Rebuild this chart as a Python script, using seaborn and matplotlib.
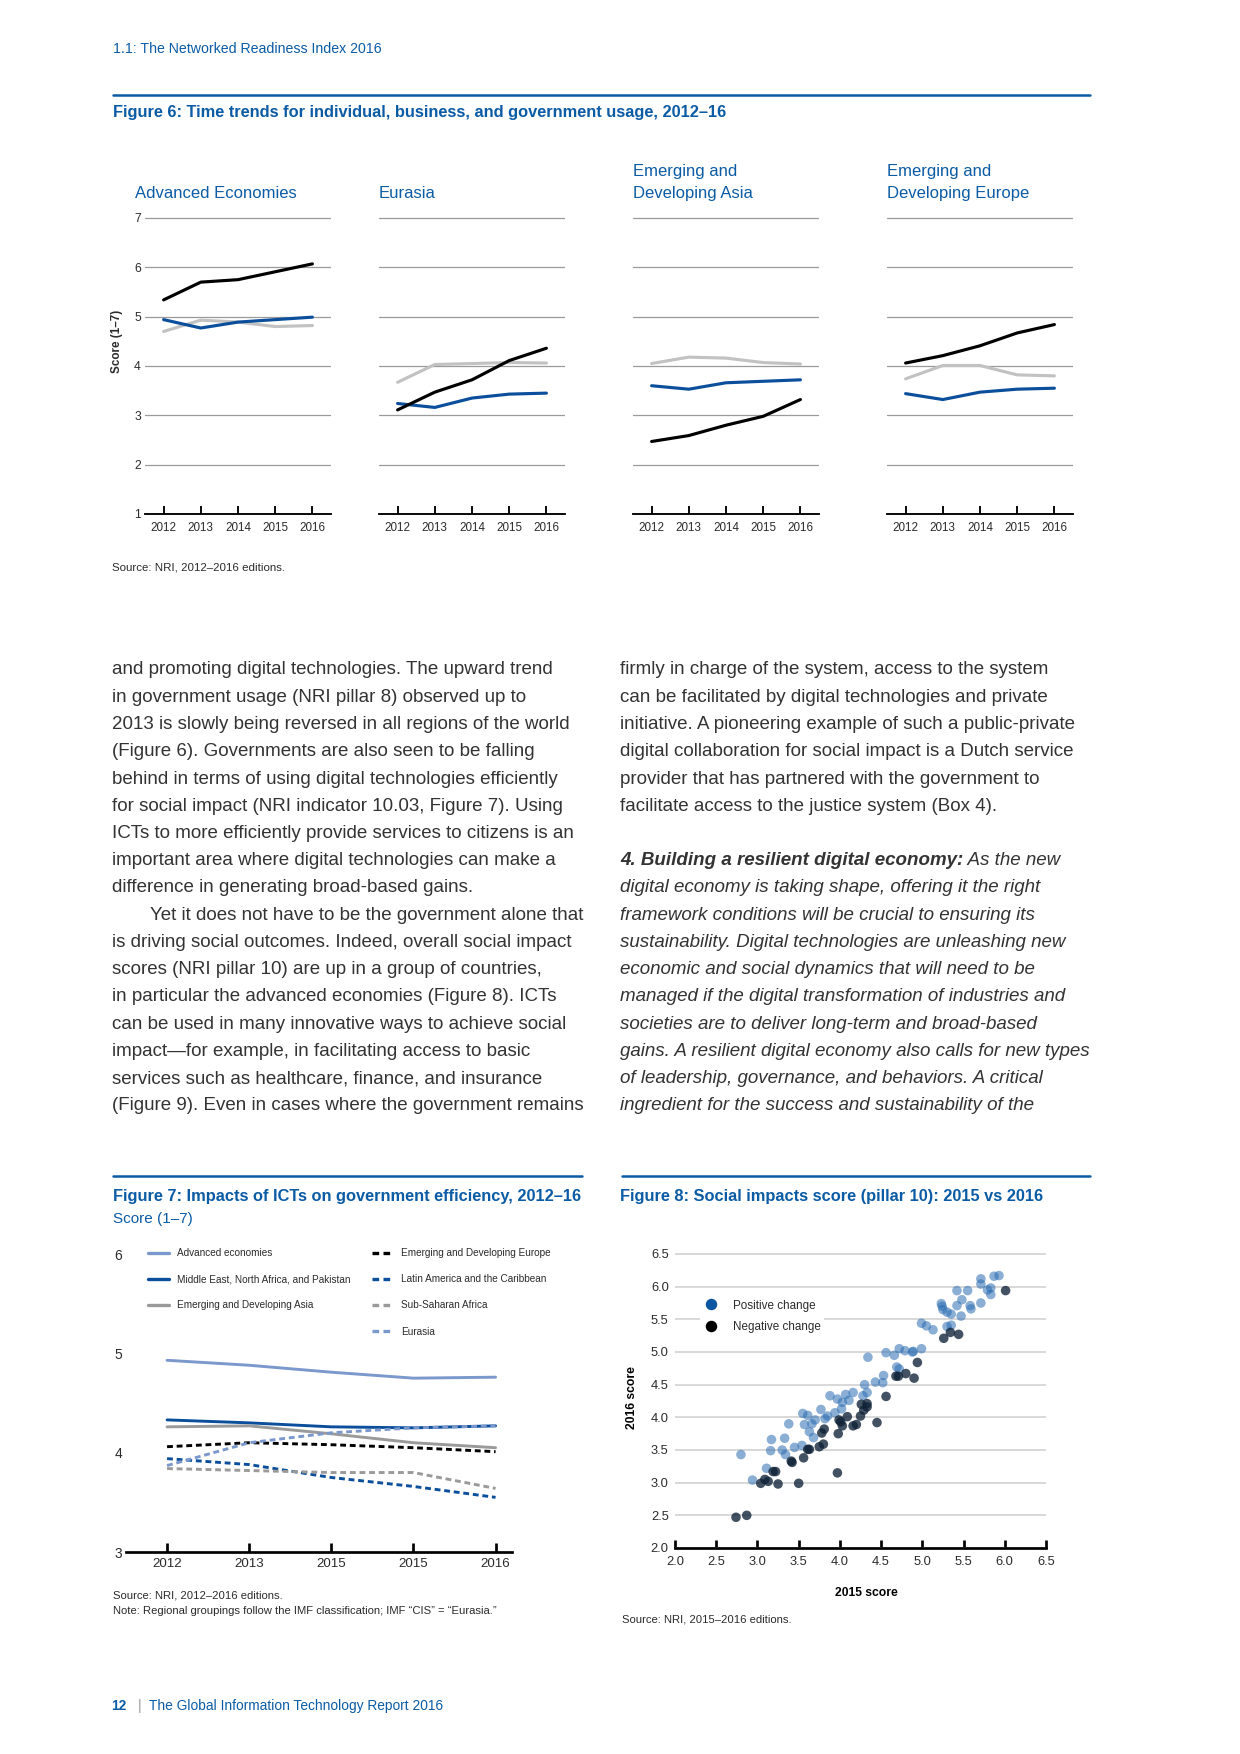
import numpy as np
import pandas as pd
import matplotlib
matplotlib.use("Agg")
import matplotlib.pyplot as plt
import seaborn as sns
from matplotlib.lines import Line2D

# ---- data: figure 6 (score 1-7) ----
years = [2012, 2013, 2014, 2015, 2016]
panel_names = ["Advanced Economies", "Eurasia", "Emerging and\nDeveloping Asia",
               "Emerging and\nDeveloping Europe"]
individual = [[5.34, 5.70, 5.75, 5.91, 6.07],
              [3.11, 3.47, 3.72, 4.11, 4.36],
              [2.47, 2.59, 2.80, 2.98, 3.32],
              [4.06, 4.21, 4.41, 4.67, 4.84]]
business = [[4.94, 4.77, 4.89, 4.94, 4.99],
            [3.24, 3.16, 3.35, 3.43, 3.45],
            [3.60, 3.53, 3.66, 3.69, 3.72],
            [3.44, 3.32, 3.47, 3.53, 3.55]]
government = [[4.70, 4.93, 4.89, 4.80, 4.82],
              [3.67, 4.03, 4.05, 4.07, 4.06],
              [4.05, 4.18, 4.16, 4.07, 4.04],
              [3.74, 4.01, 4.01, 3.82, 3.80]]

# ---- data: figure 7 ----
fig7_years = ["2012", "2013", "2015", "2015", "2016"]
fig7_regions = ["Advanced economies", "Middle East, North Africa, and Pakistan",
                "Emerging and Developing Asia", "Emerging and Developing Europe",
                "Latin America and the Caribbean", "Sub-Saharan Africa", "Eurasia"]
fig7_values = [[4.93, 4.88, 4.81, 4.75, 4.76],
               [4.33, 4.30, 4.26, 4.25, 4.27],
               [4.26, 4.27, 4.19, 4.10, 4.05],
               [4.06, 4.10, 4.08, 4.05, 4.01],
               [3.94, 3.88, 3.75, 3.66, 3.55],
               [3.84, 3.82, 3.80, 3.80, 3.64],
               [3.87, 4.10, 4.20, 4.25, 4.27]]

# ---- data: figure 8 ----
pos_2015 = [2.80, 2.94, 3.11, 3.17, 3.16, 3.33, 3.30, 3.38, 3.34, 3.45, 3.54, 3.55,
            3.61, 3.57, 3.66, 3.70, 3.63, 3.68, 3.77, 3.82, 3.85, 3.88, 3.94, 3.97,
            4.02, 4.03, 4.07, 4.11, 4.16, 4.28, 4.33, 4.30, 4.34, 4.43, 4.52, 4.53,
            4.56, 4.66, 4.69, 4.72, 4.72, 4.79, 4.88, 4.89, 4.99, 4.99, 5.05, 5.13,
            5.23, 5.24, 5.25, 5.30, 5.35, 5.35, 5.42, 5.42, 5.48, 5.47, 5.55, 5.58,
            5.59, 5.71, 5.71, 5.71, 5.79, 5.83, 5.83, 5.87, 5.93, 5.30]
pos_2016 = [3.43, 3.04, 3.22, 3.66, 3.49, 3.68, 3.50, 3.90, 3.43, 3.54, 3.57, 4.06,
            4.03, 3.89, 3.90, 3.96, 3.78, 3.69, 4.12, 3.98, 4.02, 4.33, 4.07, 4.28,
            4.13, 4.23, 4.35, 4.26, 4.38, 4.33, 4.38, 4.50, 4.92, 4.54, 4.53, 4.64,
            4.99, 4.95, 4.77, 4.74, 5.05, 5.02, 5.00, 5.01, 5.05, 5.44, 5.40, 5.34,
            5.74, 5.70, 5.65, 5.39, 5.41, 5.58, 5.71, 5.94, 5.80, 5.55, 5.94, 5.71,
            5.66, 6.12, 6.04, 5.75, 5.95, 5.98, 5.88, 6.16, 6.17, 5.61]
neg_2015 = [2.74, 2.87, 3.04, 3.09, 3.13, 3.19, 3.22, 3.25, 3.41, 3.42, 3.50, 3.56,
            3.61, 3.63, 3.75, 3.80, 3.78, 3.81, 3.97, 3.98, 3.99, 4.01, 4.03, 4.09,
            4.16, 4.20, 4.25, 4.26, 4.29, 4.33, 4.33, 4.45, 4.56, 4.68, 4.71, 4.80,
            4.90, 4.94, 5.26, 5.34, 5.44, 6.01]
neg_2016 = [2.47, 2.50, 2.99, 3.05, 3.02, 3.17, 3.17, 2.98, 3.33, 3.31, 2.99, 3.38,
            3.51, 3.51, 3.55, 3.59, 3.76, 3.82, 3.15, 3.75, 3.96, 3.93, 3.87, 4.01,
            3.87, 3.89, 4.02, 4.20, 4.11, 4.21, 4.16, 3.92, 4.32, 4.63, 4.63, 4.67,
            4.60, 4.84, 5.21, 5.30, 5.27, 5.94]

left_col = [
    "and promoting digital technologies. The upward trend",
    "in government usage (NRI pillar 8) observed up to",
    "2013 is slowly being reversed in all regions of the world",
    "(Figure 6). Governments are also seen to be falling",
    "behind in terms of using digital technologies efficiently",
    "for social impact (NRI indicator 10.03, Figure 7). Using",
    "ICTs to more efficiently provide services to citizens is an",
    "important area where digital technologies can make a",
    "difference in generating broad-based gains.",
    "Yet it does not have to be the government alone that",
    "is driving social outcomes. Indeed, overall social impact",
    "scores (NRI pillar 10) are up in a group of countries,",
    "in particular the advanced economies (Figure 8). ICTs",
    "can be used in many innovative ways to achieve social",
    "impact\u2014for example, in facilitating access to basic",
    "services such as healthcare, finance, and insurance",
    "(Figure 9). Even in cases where the government remains",
]
right_col = [
    "firmly in charge of the system, access to the system",
    "can be facilitated by digital technologies and private",
    "initiative. A pioneering example of such a public-private",
    "digital collaboration for social impact is a Dutch service",
    "provider that has partnered with the government to",
    "facilitate access to the justice system (Box 4).",
]
right_italic = [
    " As the new",
    "digital economy is taking shape, offering it the right",
    "framework conditions will be crucial to ensuring its",
    "sustainability. Digital technologies are unleashing new",
    "economic and social dynamics that will need to be",
    "managed if the digital transformation of industries and",
    "societies are to deliver long-term and broad-based",
    "gains. A resilient digital economy also calls for new types",
    "of leadership, governance, and behaviors. A critical",
    "ingredient for the success and sustainability of the",
]

# ---- style ----
sns.set_theme(style="white")
plt.rcParams['font.family'] = ['Liberation Sans', 'DejaVu Sans']
BLUE = "#0b5ba5"
LBLUE = "#7b98cc"
GREY = "#c2c2c2"
MGREY = "#9a9a9a"
TXT = "#2b2b2b"
BODYC = "#333333"
BODY = 9.0
TITLE = 7.85

W, H, DPI = 1240, 1754, 150
fig = plt.figure(figsize=(W / DPI, H / DPI), dpi=DPI)
fig.patch.set_facecolor("white")


def box(x0, y0, x1, y1):
    return fig.add_axes([x0 / W, 1 - y1 / H, (x1 - x0) / W, (y1 - y0) / H])


def ftext(x, y, s, **kw):
    return fig.text(x / W, 1 - y / H, s, **kw)


def rule(x0, x1, y, color=BLUE, lw=1.2):
    fig.add_artist(Line2D([x0 / W, x1 / W], [1 - y / H, 1 - y / H], color=color,
                          lw=lw, transform=fig.transFigure))


# header / footer
ftext(113, 49, "1.1: The Networked Readiness Index 2016", color=BLUE, fontsize=6.8, va="center")
ftext(111, 1706, "12", color=BLUE, fontsize=6.6, fontweight="bold", va="center")
ftext(138, 1706, "|", color="#999999", fontsize=7, va="center")
ftext(149, 1706, "The Global Information Technology Report 2016", color=BLUE, fontsize=6.6, va="center")

# ---------- figure 6 ----------
rule(113, 1090, 95)
ftext(113, 112, "Figure 6: Time trends for individual, business, and government usage, 2012\u201316",
      color=BLUE, fontsize=TITLE, fontweight="bold", va="center")

panel_x = [(145, 331), (379, 565), (633, 819), (887, 1073)]
title_x = [135, 379, 633, 887]
unit = (514 - 218) / 6.0
for i, (x0, x1) in enumerate(panel_x):
    ax = box(x0, 218 - 0.1 * unit, x1, 514)
    df = pd.DataFrame({"year": years * 3,
                       "score": individual[i] + business[i] + government[i],
                       "kind": ["individual"] * 5 + ["business"] * 5 + ["government"] * 5})
    sns.lineplot(data=df, x="year", y="score", hue="kind", ax=ax, legend=False,
                 palette={"individual": "black", "business": "#0b4f9c", "government": GREY},
                 hue_order=["government", "business", "individual"], lw=1.5)
    ax.set_xlim(2011.5, 2016.5)
    ax.set_ylim(1, 7.1)
    ax.set_yticks(range(1, 8))
    ax.set_xticks(years)
    ax.set_xticklabels([str(y) for y in years], fontsize=5.6, color=TXT)
    ax.grid(axis="y", color=MGREY, lw=0.6)
    ax.set_axisbelow(True)
    for s in ["top", "right", "left"]:
        ax.spines[s].set_visible(False)
    ax.spines["bottom"].set_color("black")
    ax.spines["bottom"].set_linewidth(0.9)
    ax.tick_params(axis="x", bottom=True, direction="in", length=3.7, width=0.9,
                   color="black", pad=4)
    ax.tick_params(axis="y", left=False, length=0, pad=2)
    if i == 0:
        ax.set_yticklabels([str(v) for v in range(1, 8)], fontsize=5.8, color=TXT)
    else:
        ax.set_yticklabels([])
    ax.set_xlabel("")
    ax.set_ylabel("")
    ax.set_facecolor("none")
    ftext(title_x[i], 198, panel_names[i], color=BLUE, fontsize=8.0, va="baseline",
          linespacing=1.6)

ftext(117, 341, "Score (1\u20137)", rotation=90, fontsize=5.6, fontweight="bold",
      va="center", ha="center", color=TXT)
ftext(112, 567, "Source: NRI, 2012\u20132016 editions.", fontsize=5.5, va="center", color=TXT)

# ---------- body text ----------
LS = 27.25
Y0 = 670
for i, line in enumerate(left_col):
    x = 150 if i == 9 else 112
    ftext(x, Y0 + LS * i, line, fontsize=BODY, color=BODYC, va="center")
for i, line in enumerate(right_col):
    ftext(620, Y0 + LS * i, line, fontsize=BODY, color=BODYC, va="center")
t = ftext(620, Y0 + LS * 7, "4. Building a resilient digital economy:", fontsize=BODY,
          color=BODYC, va="center", fontweight="bold", style="italic")
fig.canvas.draw()
bb = t.get_window_extent(renderer=fig.canvas.get_renderer())
fig.text(bb.x1 / fig.bbox.width, 1 - (Y0 + LS * 7) / H, right_italic[0], fontsize=BODY,
         color=BODYC, va="center", style="italic")
for i, line in enumerate(right_italic[1:]):
    ftext(620, Y0 + LS * (8 + i), line, fontsize=BODY, color=BODYC, va="center", style="italic")

# ---------- figure 7 ----------
rule(113, 582, 1176)
ftext(113, 1196, "Figure 7: Impacts of ICTs on government efficiency, 2012\u201316",
      color=BLUE, fontsize=TITLE, fontweight="bold", va="center")
ftext(113, 1219, "Score (1\u20137)", color=BLUE, fontsize=7.3, va="center")

ax7 = box(126, 1254 - 0.05 * 99.33, 512, 1552)
dash = (0, (2, 1.3))
styles7 = [(LBLUE, "-"), ("#0b4f9c", "-"), (MGREY, "-"), ("black", dash),
           ("#0b4f9c", dash), (MGREY, dash), (LBLUE, dash)]
idx = list(range(len(fig7_years)))
handles = []
for name, vals, (c, ls) in zip(fig7_regions, fig7_values, styles7):
    sns.lineplot(x=idx, y=vals, ax=ax7, color=c, lw=1.4, linestyle=ls)
    handles.append(Line2D([], [], color=c, lw=1.6, linestyle=ls, label=name))
ax7.set_xlim(-0.5, 4.2)
ax7.set_ylim(3, 6.05)
ax7.set_yticks([3, 4, 5, 6])
ax7.set_yticklabels(["3", "4", "5", "6"], fontsize=6.6, color=TXT)
ax7.set_xticks(idx)
ax7.set_xticklabels(fig7_years, fontsize=6.4, color=TXT)
for s in ["top", "right", "left"]:
    ax7.spines[s].set_visible(False)
ax7.spines["bottom"].set_color("black")
ax7.spines["bottom"].set_linewidth(1.3)
ax7.tick_params(axis="x", bottom=True, direction="in", length=4.3, width=1.3,
                color="black", pad=3)
ax7.tick_params(axis="y", left=False, length=0, pad=2)
ax7.grid(False)
ax7.set_facecolor("none")

leg_kw = dict(frameon=False, handlelength=2.1, handletextpad=0.8,
              labelspacing=1.62, borderpad=0, borderaxespad=0, loc="upper left",
              bbox_transform=fig.transFigure, prop={"size": 4.8})
leg1 = ax7.legend(handles=handles[:3], bbox_to_anchor=(148 / W, 1 - 1248 / H), **leg_kw)
for tx in leg1.get_texts():
    tx.set_color(TXT)
ax7.add_artist(leg1)
leg2 = ax7.legend(handles=handles[3:], bbox_to_anchor=(372 / W, 1 - 1248 / H), **leg_kw)
for tx in leg2.get_texts():
    tx.set_color(TXT)

ftext(113, 1595, "Source: NRI, 2012\u20132016 editions.", fontsize=5.4, va="center", color=TXT)
ftext(113, 1611, "Note: Regional groupings follow the IMF classification; IMF \u201cCIS\u201d = \u201cEurasia.\u201d",
      fontsize=5.4, va="center", color=TXT)

# ---------- figure 8 ----------
rule(622, 1090, 1176)
ftext(620, 1196, "Figure 8: Social impacts score (pillar 10): 2015 vs 2016",
      color=BLUE, fontsize=TITLE, fontweight="bold", va="center")

uy = (1548 - 1254) / 4.5
ax8 = box(675, 1254 - 0.05 * uy, 1046, 1548)
df8 = pd.DataFrame({"s2015": pos_2015 + neg_2015,
                    "s2016": pos_2016 + neg_2016,
                    "change": ["Positive change"] * len(pos_2015) + ["Negative change"] * len(neg_2015)})
sns.scatterplot(data=df8[df8.change == "Positive change"], x="s2015", y="s2016", ax=ax8,
                color="#2a6cb2", alpha=0.55, s=21, edgecolor="none", legend=False)
sns.scatterplot(data=df8[df8.change == "Negative change"], x="s2015", y="s2016", ax=ax8,
                color="#0e2136", alpha=0.78, s=21, edgecolor="none", legend=False)
ax8.set_xlim(2.0, 6.5)
ax8.set_ylim(2.0, 6.55)
ticks8 = np.arange(2.0, 6.51, 0.5)
ax8.set_xticks(ticks8)
ax8.set_yticks(ticks8)
ax8.set_xticklabels([f"{v:.1f}" for v in ticks8], fontsize=6.2, color=TXT)
ax8.set_yticklabels([f"{v:.1f}" for v in ticks8], fontsize=6.2, color=TXT)
ax8.grid(axis="y", color="#d2d2d2", lw=0.8)
ax8.set_axisbelow(True)
for s in ["top", "right", "left"]:
    ax8.spines[s].set_visible(False)
ax8.spines["bottom"].set_color("black")
ax8.spines["bottom"].set_linewidth(1.3)
ax8.tick_params(axis="x", bottom=True, direction="in", length=4, width=1.3,
                color="black", pad=4)
ax8.tick_params(axis="y", left=False, length=0, pad=3)
ax8.set_xlabel("")
ax8.set_ylabel("")
ax8.set_facecolor("none")
h8 = [Line2D([], [], marker="o", ls="none", color="#0a56a0", markersize=4.5, label="Positive change"),
      Line2D([], [], marker="o", ls="none", color="black", markersize=4.5, label="Negative change")]
leg8 = ax8.legend(handles=h8, loc="upper left", bbox_to_anchor=(700 / W, 1 - 1296 / H),
                  bbox_transform=fig.transFigure, frameon=True, facecolor="white",
                  edgecolor="none", framealpha=1, borderpad=0.3, borderaxespad=0,
                  handletextpad=1.3, labelspacing=0.85, handlelength=1.2,
                  prop={"size": 5.6})
for tx in leg8.get_texts():
    tx.set_color(TXT)
ftext(632, 1398, "2016 score", rotation=90, fontsize=5.8, fontweight="bold",
      ha="center", va="center", color="black")
ftext(866, 1593, "2015 score", fontsize=5.8, fontweight="bold",
      ha="center", va="center", color="black")
ftext(622, 1619, "Source: NRI, 2015\u20132016 editions.", fontsize=5.4, va="center", color=TXT)

fig.savefig("out.png", dpi=DPI)
